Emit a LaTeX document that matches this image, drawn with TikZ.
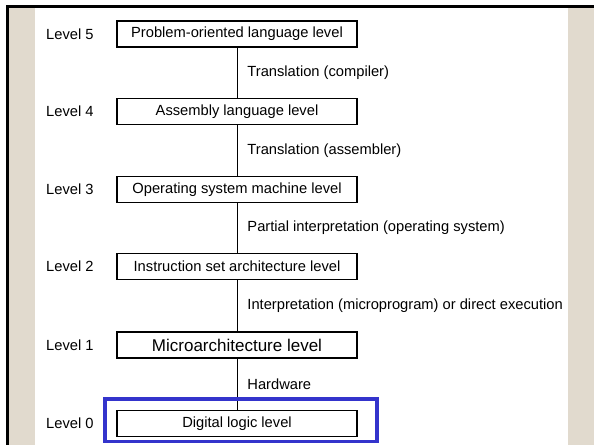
\documentclass[tikz,border=0pt]{standalone}
\usepackage{fontspec}
\setmainfont{Liberation Sans}
\usetikzlibrary{positioning}

\definecolor{paper}{RGB}{225,218,206}
\definecolor{markblue}{RGB}{52,52,204}

\tikzset{
  levelbox/.style={draw,line width=1.1pt,minimum width=240pt,minimum height=26pt,inner sep=0pt},
  levelname/.style={anchor=west,inner sep=0pt},
  steplabel/.style={right=10pt,inner sep=0pt},
  stepline/.style={line width=0.9pt}
}

\begin{document}
\begin{tikzpicture}[x=1pt,y=-1pt,font=\fontsize{14.7}{17}\selectfont]
    % slide background
    \useasboundingbox (0,0) rectangle (594,445);
    \fill[white] (0,0) rectangle (594,445);
    \fill[paper] (9,8) rectangle (35,445);
    \fill[paper] (568,8) rectangle (594,445);
    \fill[black] (6,5) rectangle (594,8);
    \fill[black] (6,5) rectangle (9,445);

    % the six levels
    \node[levelbox] (lv5) at (237,34) {Problem-oriented language level};
    \node[levelbox] (lv4) at (237,111.5) {Assembly language level};
    \node[levelbox] (lv3) at (237,189.5) {Operating system machine level};
    \node[levelbox] (lv2) at (237,266.5) {Instruction set architecture level};
    \node[levelbox,font=\fontsize{17}{20}\selectfont] (lv1) at (237,345) {Microarchitecture level};
    \node[levelbox] (lv0) at (237,423.5) {Digital logic level};

    \node[levelname] (name5) at (46,34) {Level 5};
    \node[levelname] (name4) at (46,111.5) {Level 4};
    \node[levelname] (name3) at (46,189.5) {Level 3};
    \node[levelname] (name2) at (46,266.5) {Level 2};
    \node[levelname] (name1) at (46,345) {Level 1};
    \node[levelname] (name0) at (46,423.5) {Level 0};

    % how each level is carried out
    \draw[stepline] (lv5) -- (lv4) node[midway,steplabel] (t54) {Translation (compiler)};
    \draw[stepline] (lv4) -- (lv3) node[midway,steplabel] (t43) {Translation (assembler)};
    \draw[stepline] (lv3) -- (lv2) node[midway,steplabel] (t32) {Partial interpretation (operating system)};
    \draw[stepline] (lv2) -- (lv1) node[midway,steplabel] (t21) {Interpretation (microprogram) or direct execution};
    \draw[stepline] (lv1) -- (lv0) node[midway,steplabel] (t10) {Hardware};

    % highlight
    \draw[markblue,line width=3.6pt] (105,399) rectangle (377,441.5);
  \end{tikzpicture}
\end{document}
